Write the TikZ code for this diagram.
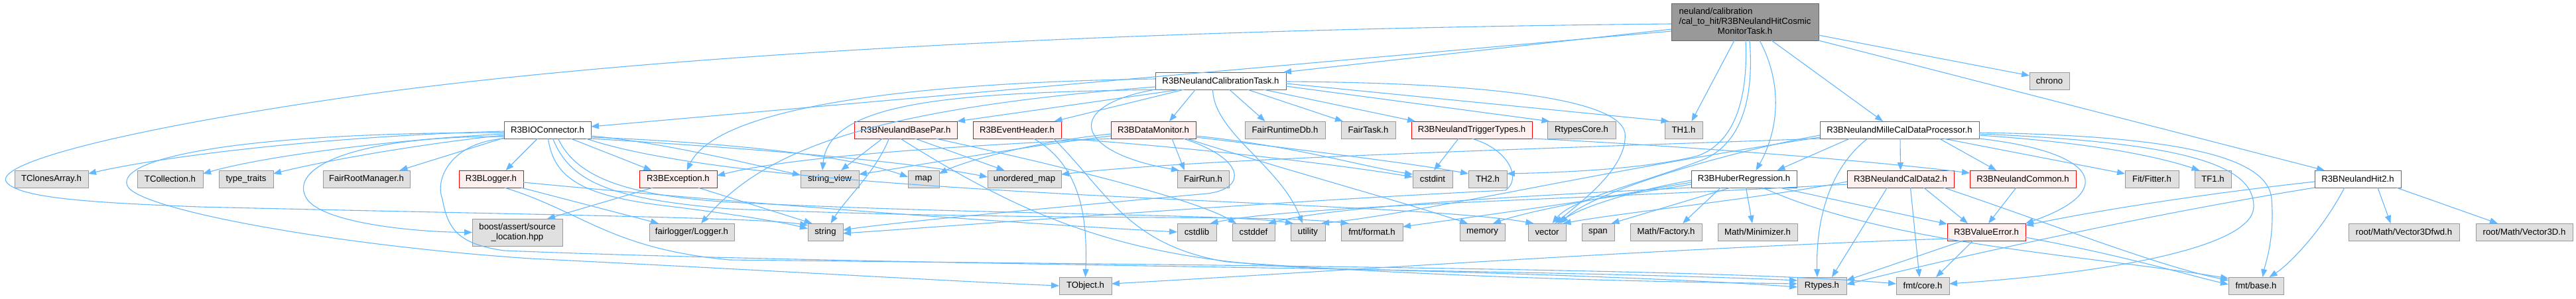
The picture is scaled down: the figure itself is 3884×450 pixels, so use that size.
\documentclass[tikz,border=0pt]{standalone}
\usepackage{fontspec}
\newfontfamily\nodefont{Liberation Sans}
\usetikzlibrary{arrows.meta}
\definecolor{edgec}{HTML}{63B8FF}
\definecolor{gfill}{HTML}{E0E0E0}
\definecolor{gborder}{HTML}{999999}
\definecolor{rfill}{HTML}{FFF0F0}
\definecolor{rborder}{HTML}{FF0000}
\definecolor{wborder}{HTML}{666666}
\definecolor{mfill}{HTML}{999999}
\tikzset{
  e/.style={draw=edgec, line width=1.1pt, -{Triangle[length=12pt,width=9pt]}},
  box/.style={rectangle, inner sep=0pt, outer sep=0pt, line width=1pt, minimum height=26pt, font=\nodefont\fontsize{13.2}{15}\selectfont, text=black},
  gbox/.style={box, fill=gfill, draw=gborder},
  rbox/.style={box, fill=rfill, draw=rborder},
  wbox/.style={box, fill=white, draw=wborder},
  mbox/.style={box, fill=mfill, draw=wborder},
}
\begin{document}
\begin{tikzpicture}[x=1pt,y=-1pt]
\useasboundingbox (0,0) rectangle (3884,450);
\fill[white] (0,0) rectangle (3884,450);
% ---- nodes
\node[mbox, minimum width=222pt, minimum height=56pt] (M) at (2631,33) {\begin{tabular}{@{}l@{}}neuland/calibration\\/cal\_to\_hit/R3BNeulandHitCosmic\\\multicolumn{1}{@{}c@{}}{MonitorTask.h}\end{tabular}};
\node[wbox, minimum width=197pt] (CT) at (1840.5,122) {R3BNeulandCalibrationTask.h};
\node[gbox, minimum width=60pt] (chrono) at (3090,122) {chrono};
% row 2
\node[wbox, minimum width=131pt] (IOC) at (825.5,196) {R3BIOConnector.h};
\node[rbox, minimum width=155pt] (BP) at (1365.5,196) {R3BNeulandBasePar.h};
\node[rbox, minimum width=133pt] (EvH) at (1533.5,196) {R3BEventHeader.h};
\node[rbox, minimum width=128pt] (DM) at (1739,196) {R3BDataMonitor.h};
\node[gbox, minimum width=121pt] (FRDb) at (1937.5,196) {FairRuntimeDb.h};
\node[gbox, minimum width=82pt] (FTask) at (2063,196) {FairTask.h};
\node[rbox, minimum width=182pt] (TrT) at (2219,196) {R3BNeulandTriggerTypes.h};
\node[gbox, minimum width=103pt] (RtC) at (2384.5,196) {RtypesCore.h};
\node[gbox, minimum width=57pt] (TH1) at (2538.5,196) {TH1.h};
\node[wbox, minimum width=240pt] (Mille) at (2864,196) {R3BNeulandMilleCalDataProcessor.h};
% row 3
\node[gbox, minimum width=111pt] (TCA) at (77.5,270) {TClonesArray.h};
\node[gbox, minimum width=99pt] (TColl) at (256.5,270) {TCollection.h};
\node[gbox, minimum width=82pt] (tt) at (371,270) {type\_traits};
\node[gbox, minimum width=131pt] (FRM) at (552.5,270) {FairRootManager.h};
\node[rbox, minimum width=97pt] (Log) at (740.5,270) {R3BLogger.h};
\node[rbox, minimum width=117pt] (Exc) at (1022.5,270) {R3BException.h};
\node[gbox, minimum width=88pt] (sv) at (1251,270) {string\_view};
\node[gbox, minimum width=47pt] (map) at (1392.5,270) {map};
\node[gbox, minimum width=111pt] (umap) at (1544.5,270) {unordered\_map};
\node[gbox, minimum width=78pt] (FRun) at (1814,270) {FairRun.h};
\node[gbox, minimum width=60pt] (cint) at (2160,270) {cstdint};
\node[gbox, minimum width=58pt] (TH2) at (2243,270) {TH2.h};
\node[wbox, minimum width=159pt] (Hub) at (2629.5,270) {R3BHuberRegression.h};
\node[rbox, minimum width=161pt] (CD2) at (2865.5,270) {R3BNeulandCalData2.h};
\node[rbox, minimum width=160pt] (Com) at (3050,270) {R3BNeulandCommon.h};
\node[gbox, minimum width=81pt] (Fit) at (3244.5,270) {Fit/Fitter.h};
\node[gbox, minimum width=55pt] (TF1) at (3336.5,270) {TF1.h};
\node[wbox, minimum width=130pt] (Hit2) at (3555,270) {R3BNeulandHit2.h};
% row 4
\node[gbox, minimum width=136pt, minimum height=41pt] (boost) at (780,350.5) {\begin{tabular}{@{}c@{}}boost/assert/source\\\_location.hpp\end{tabular}};
\node[gbox, minimum width=128pt] (flog) at (1043,350) {fairlogger/Logger.h};
\node[gbox, minimum width=53pt] (str) at (1244.5,350) {string};
\node[gbox, minimum width=59pt] (cstdlib) at (1804.5,350) {cstdlib};
\node[gbox, minimum width=64pt] (cstddef) at (1890,350) {cstddef};
\node[gbox, minimum width=52pt] (util) at (1972,350) {utility};
\node[gbox, minimum width=93pt] (fmtf) at (2068.5,350) {fmt/format.h};
\node[gbox, minimum width=68pt] (mem) at (2235,350) {memory};
\node[gbox, minimum width=57pt] (vec) at (2332.5,350) {vector};
\node[gbox, minimum width=49pt] (span) at (2409.5,350) {span};
\node[gbox, minimum width=108pt] (Fac) at (2512,350) {Math/Factory.h};
\node[gbox, minimum width=120pt] (Min) at (2650,350) {Math/Minimizer.h};
\node[rbox, minimum width=118pt] (VE) at (2995,350) {R3BValueError.h};
\node[gbox, minimum width=167pt] (V3f) at (3624.5,350) {root/Math/Vector3Dfwd.h};
\node[gbox, minimum width=146pt] (V3) at (3806,350) {root/Math/Vector3D.h};
% row 5
\node[gbox, minimum width=79pt] (TObj) at (1636.5,431) {TObject.h};
\node[gbox, minimum width=74pt] (Rty) at (2747,431) {Rtypes.h};
\node[gbox, minimum width=80pt] (fcore) at (2899,431) {fmt/core.h};
\node[gbox, minimum width=83pt] (fbase) at (3401.5,431) {fmt/base.h};
% ---- edges: main
\draw[e] ([yshift=-11pt]M.west) -- ([xshift=-4pt]CT.north east);
\draw[e] ([yshift=-14pt]M.west) -- ([yshift=5pt]IOC.east);
\draw[e] ([yshift=-3pt]M.west) .. controls (1600,45) and (900,90) .. (500,150) .. controls (150,202) and (-10,250) .. (10,275) .. controls (30,300) and (150,306) .. (300,312) .. controls (800,324) and (1150,328) .. ([yshift=10pt]str.west);
\draw[e] ([xshift=-16pt]M.south) -- ([xshift=12pt]TH1.north);
\draw[e] ([xshift=1pt]M.south) .. controls (2636,150) and (2615,215) .. (2560,235) .. controls (2480,255) and (2360,260) .. ([yshift=8pt]TH2.east);
\draw[e] ([xshift=7pt]M.south) .. controls (2645,150) and (2625,215) .. (2570,240) .. controls (2480,275) and (2370,300) .. ([xshift=8pt]vec.north);
\draw[e] ([xshift=22pt]M.south) .. controls (2690,130) and (2680,200) .. ([xshift=18pt]Hub.north);
\draw[e] ([xshift=40pt]M.south) -- ([xshift=-25pt]Mille.north);
\draw[e] ([yshift=-20pt]M.east) -- ([yshift=8pt]chrono.west);
\draw[e] (M.south east) -- ([xshift=-50pt]Hit2.north);
% ---- CalibrationTask
\draw[e] ([yshift=3pt]CT.west) .. controls (1350,125) and (1080,165) .. ([xshift=13pt]Exc.north);
\draw[e] ([xshift=10pt]CT.south west) .. controls (1450,140) and (1250,150) .. ([xshift=-11pt]sv.north);
\draw[e] ([yshift=-9pt]CT.west) .. controls (1300,165) and (1150,230) .. ([xshift=14pt]flog.north);
\draw[e] ([xshift=-60pt]CT.south) -- (BP.north east);
\draw[e] ([xshift=-55pt]CT.south) -- ([xshift=56pt]EvH.north);
\draw[e] ([xshift=-38pt]CT.south) -- ([xshift=24pt]DM.north);
\draw[e] (CT.south west) .. controls (1600,160) and (1620,230) .. ([xshift=-36pt]FRun.north);
\draw[e] ([xshift=13pt]CT.south) -- ([xshift=-30pt]FRDb.north);
\draw[e] ([xshift=40pt]CT.south) -- ([xshift=-38pt]FTask.north);
\draw[e] ([xshift=64pt]CT.south) -- ([xshift=-85pt]TrT.north);
\draw[e] ([yshift=-8pt]CT.east) -- ([xshift=-48pt]RtC.north);
\draw[e] ([yshift=-4pt]CT.east) -- ([xshift=-22pt]TH1.north);
\draw[e] ([yshift=-1pt]CT.east) .. controls (2250,125) and (2440,150) .. (2450,200) .. controls (2455,250) and (2390,300) .. ([xshift=12pt]vec.north);
\draw[e] ([xshift=-12pt]CT.south) .. controls (1830,200) and (1930,250) .. ([xshift=-8pt]util.north);
% ---- IOConnector
\draw[e] ([yshift=-2pt]IOC.west) .. controls (500,205) and (250,235) .. ([yshift=8pt]TCA.east);
\draw[e] ([yshift=-6pt]IOC.west) .. controls (600,210) and (400,235) .. ([yshift=8pt]TColl.east);
\draw[e] ([yshift=-8pt]IOC.west) .. controls (650,215) and (500,240) .. ([yshift=8pt]tt.east);
\draw[e] ([yshift=-12pt]IOC.west) -- ([xshift=50pt]FRM.north);
\draw[e] ([xshift=-15pt]IOC.south) -- ([xshift=22pt]Log.north);
\draw[e] ([xshift=35pt]IOC.south) -- ([xshift=-40pt]Exc.north);
\draw[e] ([yshift=-10pt]IOC.west) .. controls (540,205) and (440,250) .. (460,295) .. controls (475,335) and (620,350) .. (boost.west);
\draw[e] ([yshift=-4pt]IOC.west) .. controls (350,200) and (175,240) .. (192,280) .. controls (205,315) and (500,370) .. (800,390) .. controls (1200,410) and (1450,425) .. (TObj.west);
\draw[e] (IOC.south west) .. controls (680,215) and (655,270) .. (667,300) .. controls (675,345) and (690,368) .. (760,378) .. controls (1300,400) and (2300,405) .. ([yshift=8pt]Rty.west);
\draw[e] ([yshift=-9pt]IOC.east) .. controls (1000,215) and (1120,245) .. ([yshift=6pt]sv.west);
\draw[e] ([yshift=-11pt]IOC.east) .. controls (1100,215) and (1280,235) .. ([yshift=3pt]map.west);
\draw[e] ([yshift=-13pt]IOC.east) .. controls (1100,222) and (1350,240) .. ([yshift=3pt]umap.west);
\draw[e] ([xshift=1pt]IOC.south) .. controls (835,270) and (880,295) .. (1000,310) .. controls (1100,322) and (1180,335) .. ([yshift=5pt]str.west);
\draw[e] ([xshift=16pt]IOC.south) .. controls (870,270) and (950,295) .. (1100,305) .. controls (1500,325) and (1850,322) .. ([xshift=-22pt]util.north);
\draw[e] ([xshift=8pt]IOC.south) .. controls (860,275) and (920,300) .. (1100,315) .. controls (1600,335) and (1900,322) .. ([xshift=-35pt]fmtf.north);
\draw[e] ([xshift=58pt]IOC.south) .. controls (1150,300) and (2100,300) .. ([xshift=-20pt]vec.north);
% ---- Logger, Exception
\draw[e] ([xshift=45pt]Log.south) -- ([xshift=-50pt]flog.north);
\draw[e] ([yshift=-5pt]Log.east) .. controls (1100,305) and (1500,335) .. (cstdlib.west);
\draw[e] ([xshift=20pt]Log.south) .. controls (880,320) and (920,375) .. (1100,392) .. controls (1800,400) and (2600,405) .. ([yshift=3pt]fcore.west);
\draw[e] ([xshift=-38pt]Exc.south) -- ([xshift=45pt]boost.north);
\draw[e] ([xshift=30pt]Exc.south) -- ([xshift=-20pt]str.north);
% ---- BasePar
\draw[e] ([xshift=-35pt]BP.south) -- ([xshift=17pt]sv.north);
\draw[e] ([xshift=-25pt]BP.south) .. controls (1320,260) and (1275,300) .. ([xshift=8pt]str.north);
\draw[e] ([xshift=-8pt]BP.south) .. controls (1550,330) and (1700,395) .. (2000,405) .. controls (2400,415) and (2600,425) .. ([yshift=-2pt]Rty.west);
\draw[e] ([xshift=14pt]BP.south) -- ([xshift=-30pt]umap.north);
\draw[e] ([xshift=45pt]BP.south) .. controls (1600,250) and (1800,300) .. ([xshift=-26pt]cstddef.north);
% ---- EventHeader
\draw[e] ([xshift=25pt]EvH.south) .. controls (1630,250) and (1640,330) .. (TObj.north);
\draw[e] (EvH.south east) .. controls (1750,218) and (2000,245) .. ([yshift=3pt]cint.west);
\draw[e] ([xshift=55pt]EvH.south) .. controls (1670,290) and (1700,370) .. (1850,395) .. controls (2200,420) and (2500,425) .. ([yshift=3pt]Rty.west);
% ---- DataMonitor
\draw[e] ([xshift=28pt]DM.south) -- ([xshift=-28pt]FRun.north);
\draw[e] ([yshift=-6pt]DM.west) .. controls (1550,215) and (1450,245) .. ([yshift=8pt]map.east);
\draw[e] ([yshift=-9pt]DM.west) .. controls (1550,220) and (1380,250) .. ([yshift=7pt]sv.east);
\draw[e] (DM.south west) .. controls (1450,220) and (1200,235) .. ([yshift=5pt]Exc.east);
\draw[e] ([xshift=45pt]DM.south) .. controls (1880,240) and (1880,285) .. (1820,292) .. controls (1600,312) and (1350,335) .. ([yshift=3pt]str.east);
\draw[e] ([yshift=-9pt]DM.east) .. controls (1950,220) and (2050,250) .. ([yshift=7pt]cint.west);
\draw[e] ([yshift=-11pt]DM.east) .. controls (2000,230) and (2150,250) .. ([yshift=8pt]TH2.west);
\draw[e] ([xshift=50pt]DM.south) .. controls (1950,260) and (2100,300) .. ([xshift=-22pt]mem.north);
% ---- TriggerTypes
\draw[e] ([xshift=-20pt]TrT.south) -- ([xshift=2pt]cint.north);
\draw[e] (TrT.south) .. controls (2275,225) and (2295,270) .. (2270,287) .. controls (1900,305) and (1450,340) .. ([yshift=-2pt]str.east);
\draw[e] (TrT.south east) .. controls (2500,218) and (2800,240) .. ([yshift=9pt]Com.west);
% ---- HuberRegression
\draw[e] ([xshift=-35pt]Hub.south) -- ([xshift=25pt]Fac.north);
\draw[e] ([xshift=-20pt]Hub.south) -- ([xshift=20pt]span.north);
\draw[e] ([xshift=3pt]Hub.south) -- ([xshift=-8pt]Min.north);
\draw[e] ([xshift=53pt]Hub.south) -- ([yshift=12pt]VE.west);
\draw[e] ([xshift=28pt]Hub.south) .. controls (2850,370) and (3150,385) .. ([yshift=11pt]fbase.west);
\draw[e] ([yshift=-2pt]Hub.west) .. controls (2450,290) and (2380,315) .. ([xshift=16pt]vec.north);
\draw[e] ([yshift=-5pt]Hub.west) .. controls (2400,300) and (2300,320) .. ([xshift=16pt]mem.north);
\draw[e] ([yshift=-8pt]Hub.west) .. controls (2350,310) and (2200,330) .. ([yshift=8pt]fmtf.east);
\draw[e] (Hub.south west) .. controls (2200,300) and (2000,315) .. ([xshift=22pt]cstddef.north);
% ---- MilleCalDataProcessor
\draw[e] ([xshift=-75pt]Mille.south) -- ([xshift=50pt]Hub.north);
\draw[e] ([xshift=1pt]Mille.south) -- (CD2.north);
\draw[e] ([xshift=60pt]Mille.south) -- ([xshift=-40pt]Com.north);
\draw[e] ([xshift=-48pt]Mille.south) .. controls (2750,260) and (2738,350) .. ([xshift=-7pt]Rty.north);
\draw[e] (Mille.south east) .. controls (3170,230) and (3190,290) .. (VE.north east);
\draw[e] ([xshift=66pt]Mille.south) -- ([yshift=8pt]Fit.west);
\draw[e] ([yshift=-8pt]Mille.east) .. controls (3150,215) and (3250,235) .. ([xshift=-20pt]TF1.north);
\draw[e] ([yshift=-6pt]Mille.east) .. controls (3300,215) and (3400,250) .. (3398,313) .. controls (3395,370) and (3200,410) .. ([yshift=3pt]fcore.east);
\draw[e] ([yshift=-4pt]Mille.east) .. controls (3300,205) and (3420,240) .. (3425,300) .. controls (3430,360) and (3415,400) .. ([xshift=10pt]fbase.north);
\draw[e] (Mille.south west) .. controls (2300,225) and (1800,240) .. ([yshift=7pt]umap.east);
\draw[e] ([yshift=-8pt]Mille.west) .. controls (2600,230) and (2400,290) .. ([xshift=20pt]vec.north);
\draw[e] ([yshift=-11pt]Mille.west) .. controls (2400,260) and (2150,320) .. ([xshift=20pt]util.north);
% ---- CalData2
\draw[e] ([xshift=-20pt]CD2.south) -- ([xshift=15pt]Rty.north);
\draw[e] ([xshift=15pt]CD2.south) -- ([xshift=-5pt]fcore.north);
\draw[e] ([xshift=35pt]CD2.south) -- ([xshift=-28pt]VE.north);
\draw[e] ([xshift=65pt]CD2.south) .. controls (3100,340) and (3250,400) .. ([yshift=8pt]fbase.west);
\draw[e] ([yshift=-4pt]CD2.west) .. controls (2650,300) and (2450,320) .. ([xshift=24pt]vec.north);
\draw[e] ([yshift=-8pt]CD2.west) .. controls (2400,300) and (1950,310) .. ([xshift=20pt]cstdlib.north);
% ---- Common, ValueError
\draw[e] ([xshift=-10pt]Com.south) -- ([xshift=3pt]VE.north);
\draw[e] ([xshift=-35pt]VE.south) -- ([yshift=8pt]Rty.east);
\draw[e] ([xshift=-20pt]VE.south) -- ([xshift=20pt]fcore.north);
\draw[e] ([yshift=-8pt]VE.east) .. controls (3200,385) and (3300,415) .. ([yshift=2pt]fbase.west);
\draw[e] ([yshift=-10pt]VE.west) .. controls (2500,375) and (2000,410) .. ([yshift=3pt]TObj.east);
% ---- Hit2
\draw[e] ([yshift=-4pt]Hit2.west) .. controls (3300,295) and (3150,320) .. ([yshift=10pt]VE.east);
\draw[e] (Hit2.south west) .. controls (3200,330) and (2900,400) .. ([yshift=2pt]Rty.east);
\draw[e] ([xshift=-20pt]Hit2.south) .. controls (3500,350) and (3450,400) .. ([xshift=20pt]fbase.north);
\draw[e] ([xshift=30pt]Hit2.south) -- ([xshift=-20pt]V3f.north);
\draw[e] ([xshift=58pt]Hit2.south) -- ([xshift=-40pt]V3.north);
\end{tikzpicture}
\end{document}
